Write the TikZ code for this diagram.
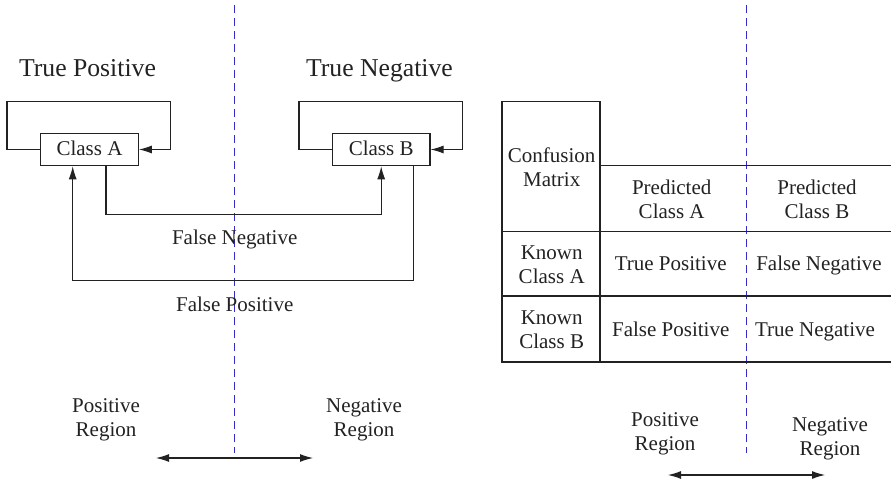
\documentclass[tikz,border=0pt]{standalone}
\usepackage{fontspec}
\setmainfont{Liberation Serif}
\usetikzlibrary{arrows.meta}
\definecolor{ink}{HTML}{222222}
\definecolor{divider}{RGB}{52,44,200}
\newcommand{\pair}[2]{\begin{tabular}[t]{@{}c@{}}#1\\#2\end{tabular}}
\begin{document}
\begin{tikzpicture}[x=1pt,y=-1pt,
  line width=1.1pt,
  every node/.style={inner sep=0pt,text=ink,font=\fontsize{21}{24}\selectfont},
  lbl/.style={anchor=base},
  head/.style={anchor=base,font=\fontsize{25.7}{28}\selectfont},
  classbox/.style={draw=ink,minimum width=97.6pt,minimum height=32.4pt},
  wire/.style={draw=ink},
  arr/.style={draw=ink,-{Latex[length=13pt,width=8pt]}},
  dbl/.style={draw=ink,{Latex[length=13pt,width=8pt]}-{Latex[length=13pt,width=8pt]}},
  split/.style={draw=divider,line width=1pt,dash pattern=on 8pt off 5pt}]
\useasboundingbox (0,0) rectangle (891,484);

% ---------- left: class flow diagram ----------
\draw[split] (234.3,5) -- (234.3,452.5);

\node[head] (tp) at (87.5,76.7) {True Positive};
\node[head] (tn) at (379.5,76.7) {True Negative};

\node[classbox] (A) at (89.5,149.5) {};
\node[lbl] (Atxt) at (89.5,155.7) {Class A};
\node[classbox] (B) at (381.2,149.5) {};
\node[lbl] (Btxt) at (381.2,155.7) {Class B};

% self loops
\coordinate (Al) at (7,101.7);
\coordinate (Ar) at (170.7,101.7);
\draw[arr] (A.west) -| (Al) -- (Ar) |- (A.east);
\coordinate (Bl) at (299,101.7);
\coordinate (Br) at (462.3,101.7);
\draw[arr] (B.west) -| (Bl) -- (Br) |- (B.east);

% cross transitions
\draw[arr] ([xshift=16.5pt]A.south) -- ++(0,48.3) -| (B.south);
\draw[arr] ([xshift=32.1pt]B.south) -- ++(0,114.3) -| ([xshift=-16.8pt]A.south);

\node[lbl] (fn) at (234.7,244) {False Negative};
\node[lbl] (fp) at (234.7,311) {False Positive};

\node[lbl] (posL) at (106,412.3) {\pair{Positive}{Region}};
\node[lbl] (negL) at (364,412.3) {\pair{Negative}{Region}};
\coordinate (dl1) at (156,458);
\coordinate (dl2) at (313,458);
\draw[dbl] (dl1) -- (dl2);

% ---------- right: confusion matrix ----------
\draw[split] (746.7,5) -- (746.7,452.5);

\draw[wire] (502,101.7) rectangle (600,362);
\draw[wire] (600,165.7) -- (891,165.7);
\draw[wire] (502,231.7) -- (891,231.7);
\draw[wire] (502,296) -- (891,296);
\draw[wire] (600,362) -- (891,362);

\node[lbl] (cm)  at (551.7,162.3) {\pair{Confusion}{Matrix}};
\node[lbl] (pa)  at (671.7,194) {\pair{Predicted}{Class A}};
\node[lbl] (pb)  at (817,194) {\pair{Predicted}{Class B}};
\node[lbl] (ka)  at (551.7,259.7) {\pair{Known}{Class A}};
\node[lbl] (kb)  at (551.7,324) {\pair{Known}{Class B}};
\node[lbl] (c11) at (670.7,270.7) {True Positive};
\node[lbl] (c12) at (819,270.7) {False Negative};
\node[lbl] (c21) at (670.7,336.7) {False Positive};
\node[lbl] (c22) at (815,336.7) {True Negative};

\node[lbl] (posR) at (665,426.7) {\pair{Positive}{Region}};
\node[lbl] (negR) at (830,431.3) {\pair{Negative}{Region}};
\coordinate (dr1) at (668,475);
\coordinate (dr2) at (825,475);
\draw[dbl] (dr1) -- (dr2);
\end{tikzpicture}
\end{document}
